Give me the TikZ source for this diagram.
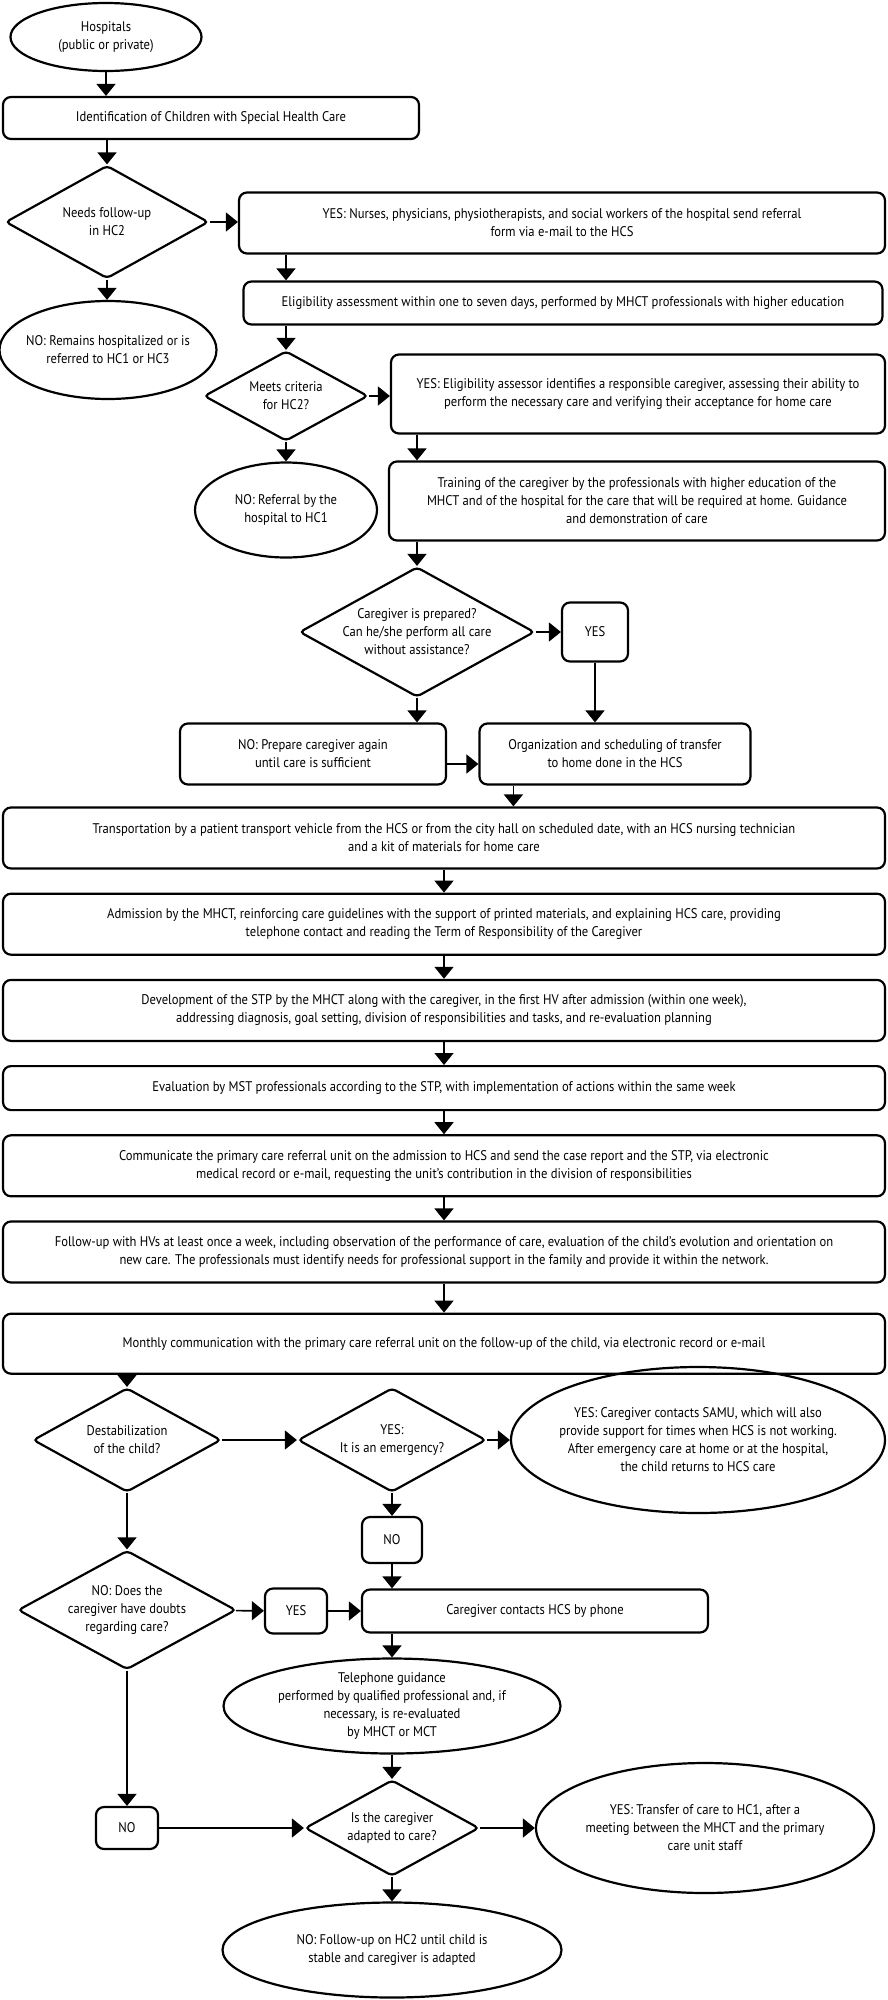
\documentclass[tikz,border=0pt]{standalone}
\usepackage{fontspec}
\setmainfont{PT Sans}[FakeStretch=0.9]
\usetikzlibrary{shapes.geometric, positioning, arrows.meta}

\begin{document}
\begin{tikzpicture}[x=1pt, y=-1pt, node distance=23pt, line width=2.2pt,
  every node/.style={font=\fontsize{14}{18}\selectfont},
  box/.style={draw, rounded corners=8pt, align=center, inner sep=0pt},
  wide/.style={box, minimum width=882pt, minimum height=61pt},
  decision/.style={draw, diamond, aspect=1.8, rounded corners=4pt, align=center, inner sep=-6pt},
  oval/.style={draw, ellipse, align=center, inner xsep=-25pt, inner ysep=-20pt},
  flow/.style={-{Triangle[length=12pt,width=19pt]}, line width=1.6pt}]
  \useasboundingbox (0,0) rectangle (888,2000);

  % hospital part
  \node[oval, minimum width=191pt, minimum height=68pt] (hosp) at (106,37) {Hospitals\\(public or private)};
  \node[box, minimum width=416pt, minimum height=42pt] (ident) at (211,118) {Identification of Children with Special Health Care};
  \node[decision, minimum width=203pt, minimum height=113pt] (needs) at (107,222) {Needs follow-up\\in HC2};
  \node[box, minimum width=646pt, minimum height=61pt] (refer) at (562,223) {YES: Nurses, physicians, physiotherapists, and social workers of the hospital send referral\\form via e-mail to the HCS};
  \node[box, minimum width=639pt, minimum height=43pt] (elig) at (563,303) {Eligibility assessment within one to seven days, performed by MHCT professionals with higher education};
  \node[oval, minimum width=217pt, minimum height=98pt] (stay) at (108,350) {NO: Remains hospitalized or is\\referred to HC1 or HC3};
  \node[decision, minimum width=164pt, minimum height=90pt] (criteria) at (286,396) {Meets criteria\\for HC2?};
  \node[box, minimum width=494pt, minimum height=79pt] (assess) at (638,394) {YES: Eligibility assessor identifies a responsible caregiver, assessing their ability to\\perform the necessary care and verifying their acceptance for home care};
  \node[oval, minimum width=182pt, minimum height=95pt] (tohcone) at (286,510) {NO: Referral by the\\hospital to HC1};
  \node[box, minimum width=496pt, minimum height=79pt] (train) at (637,501) {Training of the caregiver by the professionals with higher education of the\\MHCT and of the hospital for the care that will be required at home. Guidance\\and demonstration of care};
  \node[decision, minimum width=235pt, minimum height=130pt] (prepared) at (417,632) {Caregiver is prepared?\\Can he/she perform all care\\without assistance?};
  \node[box, minimum width=66pt, minimum height=59pt] (yesprep) at (595,632) {YES};
  \node[box, minimum width=266pt, minimum height=61pt] (again) at (313,754) {NO: Prepare caregiver again\\until care is sufficient};
  \node[box, minimum width=271pt, minimum height=61pt] (sched) at (615,754) {Organization and scheduling of transfer\\to home done in the HCS};
  \coordinate (outsched) at ([xshift=35pt]sched.south west);
  \coordinate (outagain) at ([yshift=-10pt]again.east);

  % home care part
  \node[wide] (transport) at (444,838) {Transportation by a patient transport vehicle from the HCS or from the city hall on scheduled date, with an HCS nursing technician\\and a kit of materials for home care};
  \node[wide, below=of transport] (admit) {Admission by the MHCT, reinforcing care guidelines with the support of printed materials, and explaining HCS care, providing\\telephone contact and reading the Term of Responsibility of the Caregiver};
  \node[wide, below=of admit] (stp) {Development of the STP by the MHCT along with the caregiver, in the first HV after admission (within one week),\\addressing diagnosis, goal setting, division of responsibilities and tasks, and re-evaluation planning};
  \node[wide, minimum height=44pt, below=of stp] (evalmst) {Evaluation by MST professionals according to the STP, with implementation of actions within the same week};
  \node[wide, below=of evalmst] (inform) {Communicate the primary care referral unit on the admission to HCS and send the case report and the STP, via electronic\\medical record or e-mail, requesting the unit’s contribution in the division of responsibilities};
  \node[wide, below=of inform] (visits) {Follow-up with HVs at least once a week, including observation of the performance of care, evaluation of the child’s evolution and orientation on\\new care. The professionals must identify needs for professional support in the family and provide it within the network.};
  \node[wide, minimum height=60pt, below=29pt of visits] (monthly) {Monthly communication with the primary care referral unit on the follow-up of the child, via electronic record or e-mail};

  % follow-up part
  \node[decision, minimum width=188pt, minimum height=104pt] (unstable) at (127,1440) {Destabilization\\of the child?};
  \node[decision, minimum width=188pt, minimum height=104pt] (emerg) at (392,1440) {YES:\\It is an emergency?};
  \node[oval, minimum width=374pt, minimum height=146pt] (samu) at (698,1440) {YES: Caregiver contacts SAMU, which will also\\provide support for times when HCS is not working.\\After emergency care at home or at the hospital,\\the child returns to HCS care};
  \node[box, minimum width=60pt, minimum height=46pt] (noemerg) at (392,1540) {NO};
  \node[decision, minimum width=218pt, minimum height=119pt] (doubts) at (127,1610) {NO: Does the\\caregiver have doubts\\regarding care?};
  \node[box, minimum width=62pt, minimum height=45pt] (yesdoubt) at (296,1611) {YES};
  \node[box, minimum width=346pt, minimum height=43pt] (phone) at (535,1611) {Caregiver contacts HCS by phone};
  \node[oval, minimum width=337pt, minimum height=95pt] (guide) at (392,1706) {Telephone guidance\\performed by qualified professional and, if\\necessary, is re-evaluated\\by MHCT or MCT};
  \node[decision, minimum width=174pt, minimum height=96pt] (adapted) at (392,1828) {Is the caregiver\\adapted to care?};
  \node[oval, minimum width=338pt, minimum height=130pt] (transfer) at (705,1828) {YES: Transfer of care to HC1, after a\\meeting between the MHCT and the primary\\care unit staff};
  \node[box, minimum width=62pt, minimum height=42pt] (nodoubt) at (127,1828) {NO};
  \node[oval, minimum width=339pt, minimum height=95pt] (stable) at (392,1950) {NO: Follow-up on HC2 until child is\\stable and caregiver is adapted};

  \path[flow]
  (hosp) edge (hosp |- ident.north)
  (ident.south -| needs) edge (needs)
  (needs) edge (refer.west |- needs)
  (needs) edge (needs |- stay.north)
  (refer.south -| criteria) edge (elig.north -| criteria)
  (elig.south -| criteria) edge (criteria)
  (criteria) edge (assess.west |- criteria)
  (criteria) edge (tohcone)
  (assess.south -| prepared) edge (train.north -| prepared)
  (train.south -| prepared) edge (prepared)
  (prepared) edge (yesprep)
  (yesprep) edge (yesprep |- sched.north)
  (prepared) edge (prepared |- again.north)
  (outagain) edge (sched.west |- outagain)
  (outsched) edge (outsched |- transport.north)
  (transport) edge (admit)
  (admit) edge (stp)
  (stp) edge (evalmst)
  (evalmst) edge (inform)
  (inform) edge (visits)
  (visits) edge (monthly)
  (monthly.south -| unstable) edge (unstable)
  (unstable) edge (emerg)
  (emerg) edge (samu)
  (emerg) edge (noemerg)
  (noemerg) edge (phone.north -| noemerg)
  (unstable) edge (doubts)
  (doubts) edge (yesdoubt)
  (yesdoubt) edge (phone.west |- yesdoubt)
  (phone.south -| guide) edge (guide)
  (guide) edge (adapted)
  (doubts) edge (nodoubt)
  (nodoubt) edge (adapted)
  (adapted) edge (transfer)
  (adapted) edge (stable);
\end{tikzpicture}
\end{document}
